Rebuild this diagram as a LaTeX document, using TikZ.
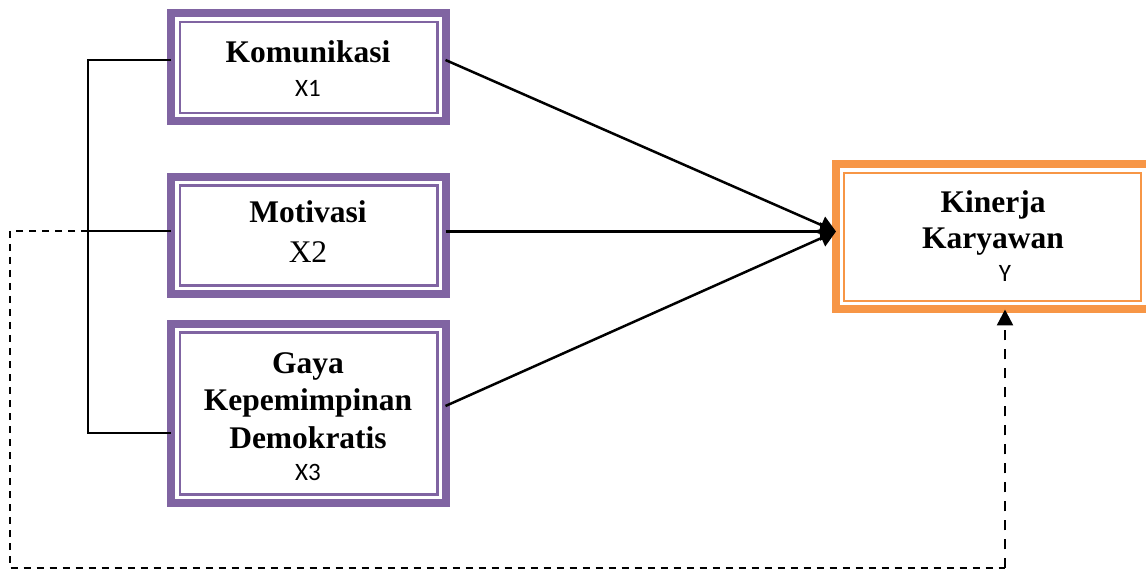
\documentclass[tikz,border=0pt]{standalone}
\usepackage{fontspec}
\setmainfont{Liberation Serif}
\newfontfamily\calfont{Carlito}
\usetikzlibrary{arrows.meta,calc}
\definecolor{purp}{HTML}{8064A2}
\definecolor{orng}{HTML}{F79646}
\tikzset{
  x=1pt,y=1pt,
  pbox/.style={rectangle,draw=purp,line width=8pt,inner sep=0pt,outer sep=0pt,minimum width=274.5pt},
  obox/.style={rectangle,draw=orng,line width=8pt,inner sep=0pt,outer sep=0pt,minimum width=314pt,minimum height=145pt},
  ttl/.style={anchor=base,inner sep=0pt,font=\fontsize{31.5}{37}\selectfont\bfseries},
  sub/.style={anchor=base,inner sep=0pt,font=\fontsize{25}{30}\selectfont\calfont},
  subserif/.style={anchor=base,inner sep=0pt,font=\fontsize{31.5}{37}\selectfont},
  conn/.style={black,line width=2.5pt},
  arr/.style={conn,-{Triangle[length=16pt,width=18pt]}},
  dashA/.style={black,line width=2.5pt,dash pattern=on 7pt off 6pt},
  dashB/.style={black,line width=2.5pt,dash pattern=on 10pt off 9pt,-{Triangle[length=16pt,width=16pt]}}
}
\begin{document}
\begin{tikzpicture}
\useasboundingbox[fill=white] (0,0) rectangle (1146,-569);
% boxes
\node[pbox,minimum height=108pt] (b1) at (308.25,-67.5) {};
\node[pbox,minimum height=117pt] (b2) at (308.25,-235.5) {};
\node[pbox,minimum height=179pt] (b3) at (308.25,-413.5) {};
\node[obox] (by) at (992.5,-237) {};
% inner thin lines
\foreach \n in {b1,b2,b3}{
  \draw[purp,line width=2.4pt] ([shift={(9pt,-8.5pt)}]\n.north west) rectangle ([shift={(-8pt,8.5pt)}]\n.south east);
}
\draw[orng,line width=2.4pt] ([shift={(8.5pt,-8.5pt)}]by.north west) rectangle ([shift={(-8.5pt,8.5pt)}]by.south east);
% texts
\node[ttl] (t1) at (308,-63) {Komunikasi};
\node[sub] (s1) at (308,-97) {X1};
\node[ttl] (t2) at (308,-223) {Motivasi};
\node[subserif] (s2) at (308,-263) {X2};
\node[ttl] (t3a) at (308,-373) {Gaya};
\node[ttl] (t3b) at (308,-410) {Kepemimpinan};
\node[ttl] (t3c) at (308,-448) {Demokratis};
\node[sub] (s3) at (308,-480) {X3};
\node[ttl] (tya) at (993,-213) {Kinerja};
\node[ttl] (tyb) at (993,-249) {Karyawan};
\node[sub] (sy) at (1005,-282) {Y};
% bracket
\coordinate (bt) at (88,-60);
\coordinate (bm) at (88,-231);
\coordinate (bb) at (88,-433);
\draw[conn] (b1.west |- bt) -- (bt) -- (bb) -- (b3.west |- bb);
\draw[conn] (bm) -- (b2.west |- bm);
% arrows to Y
\coordinate (tip) at (836,-231.5);
\draw[arr] (b1.east |- 0,-60) -- (tip);
\draw[arr] (b2.east |- tip) -- (tip);
\draw[arr] (b3.east |- 0,-406) -- (tip);
% dashed feedback
\coordinate (d1) at (10,-231);
\coordinate (d2) at (10,-568.3);
\coordinate (d3) at (1005,-568.3);
\draw[dashA] (bm) -- (d1) -- (d2) -- (d3);
\draw[dashB] (d3) -- (by.south -| d3);
\end{tikzpicture}
\end{document}
